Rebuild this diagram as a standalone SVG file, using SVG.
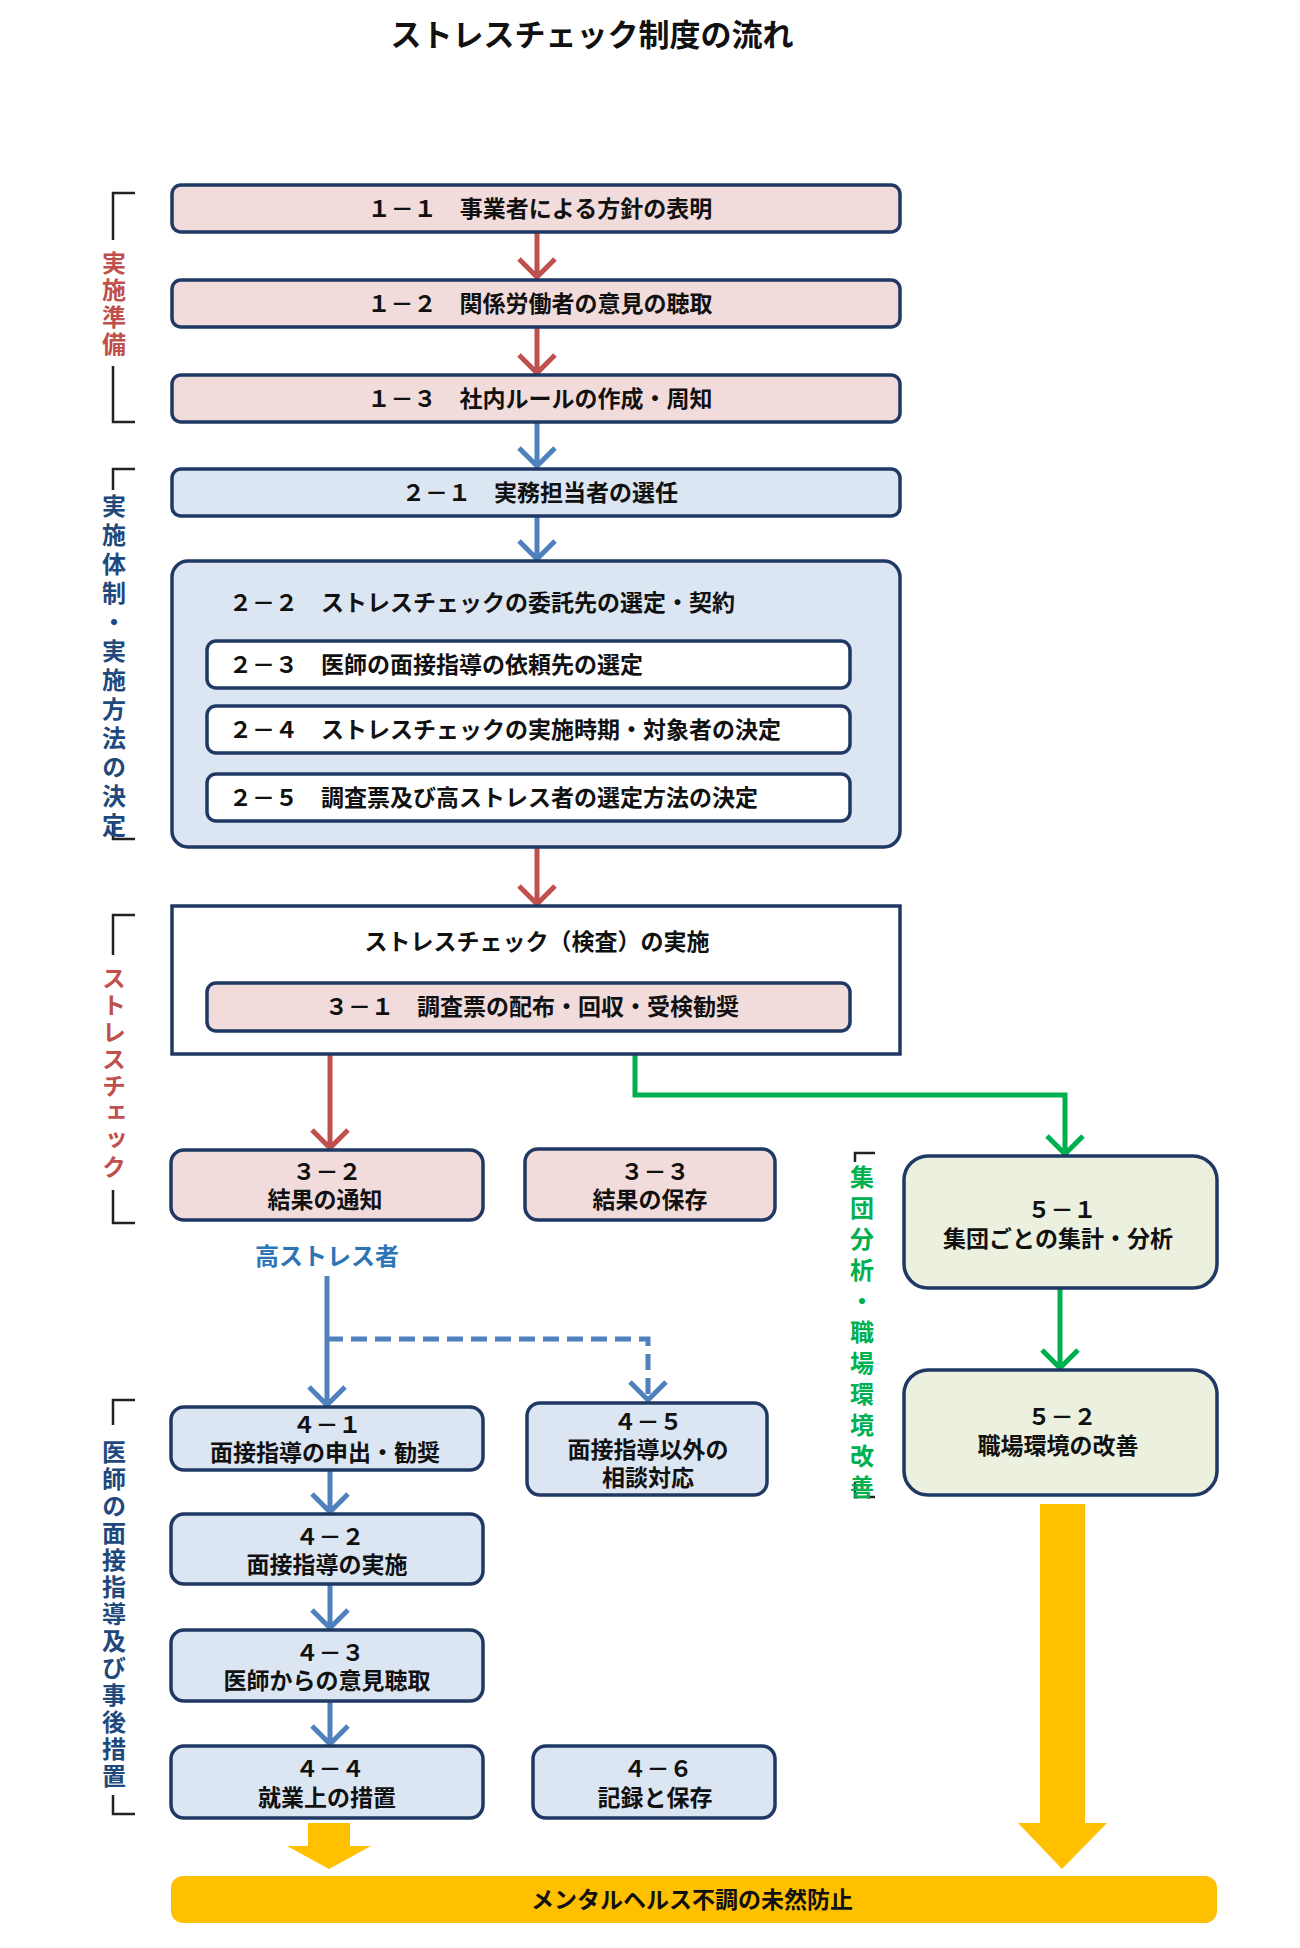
<svg xmlns="http://www.w3.org/2000/svg" width="1300" height="1948" viewBox="0 0 1300 1948">
<style>
text{font-family:"Noto Sans CJK JP","Noto Sans",sans-serif;font-weight:bold;fill:#111;}
.t{font-size:23px;text-anchor:middle;}
.tl{font-size:23px;}
.pk{fill:#f2dcdb;stroke:#1f3864;stroke-width:3.5;}
.bl{fill:#dce6f2;stroke:#1f3864;stroke-width:3.5;}
.wh{fill:#fff;stroke:#1f3864;stroke-width:3.5;}
.gr{fill:#ebf1de;stroke:#1f3864;stroke-width:3.5;}
.ar{fill:none;stroke-width:5;stroke-linejoin:miter;}
.red{stroke:#c0504d;}
.blu{stroke:#4f81bd;}
.grn{stroke:#00b050;}
.br{fill:none;stroke:#222;stroke-width:2.5;}
.lab{font-size:24px;writing-mode:vertical-rl;}
</style>
<text x="592" y="46" style="font-size:31px;text-anchor:middle">ストレスチェック制度の流れ</text>

<g id="brackets">
<path class="br" d="M135 193H113V240M113 366V422H135"/>
<text class="lab" style="fill:#c0504d;letter-spacing:3px" x="114" y="251">実施準備</text>
<path class="br" d="M135 469H113V490M113 822V839H135"/>
<text class="lab" style="fill:#1f497d;letter-spacing:5px" x="114" y="494">実施体制・実施方法の決定</text>
<path class="br" d="M135 915H113V955M113 1190V1223H135"/>
<text class="lab" style="fill:#c0504d;letter-spacing:3px" x="114" y="966">ストレスチェック</text>
<path class="br" d="M135 1400H113V1425M113 1795V1814H135"/>
<text class="lab" style="fill:#1f497d;letter-spacing:3px" x="114" y="1440">医師の面接指導及び事後措置</text>
<path class="br" d="M875 1153H855V1162M855 1482V1497H875"/>
<text class="lab" style="fill:#00b050;letter-spacing:7px" x="862" y="1165">集団分析・職場環境改善</text>
</g>

<g id="connectors">
<path class="ar red" d="M537 232V277M519 259L537 277L555 259"/>
<path class="ar red" d="M537 327V373M519 355L537 373L555 355"/>
<path class="ar blu" d="M537 422V466M519 448L537 466L555 448"/>
<path class="ar blu" d="M537 516V559M519 541L537 559L555 541"/>
<path class="ar red" d="M537 848V904M519 886L537 904L555 886"/>
<path class="ar red" d="M330 1054V1148M312 1130L330 1148L348 1130"/>
<path class="ar grn" d="M635 1054V1095H1065V1154M1047 1136L1065 1154L1083 1136"/>
<path class="ar grn" d="M1060 1288V1368M1042 1350L1060 1368L1078 1350"/>
<path class="ar blu" d="M327 1276V1405M309 1387L327 1405L345 1387"/>
<path class="ar blu" d="M327 1339H648V1400" stroke-dasharray="16 8"/>
<path class="ar blu" d="M630 1382L648 1400L666 1382"/>
<path class="ar blu" d="M330 1470V1512M312 1494L330 1512L348 1494"/>
<path class="ar blu" d="M330 1584V1628M312 1610L330 1628L348 1610"/>
<path class="ar blu" d="M330 1701V1744M312 1726L330 1744L348 1726"/>
<path d="M308 1823H350V1846H371L329 1869L287 1846H308Z" fill="#ffc000"/>
<path d="M1040 1504H1085V1823H1107L1062 1869L1018 1823H1040Z" fill="#ffc000"/>
</g>

<g id="n11"><rect class="pk" x="172" y="185" width="728" height="47" rx="9"/><text class="t" x="540" y="217">１－１　事業者による方針の表明</text></g>
<g id="n12"><rect class="pk" x="172" y="280" width="728" height="47" rx="9"/><text class="t" x="540" y="312">１－２　関係労働者の意見の聴取</text></g>
<g id="n13"><rect class="pk" x="172" y="375" width="728" height="47" rx="9"/><text class="t" x="540" y="407">１－３　社内ルールの作成・周知</text></g>
<g id="n21"><rect class="bl" x="172" y="469" width="728" height="47" rx="9"/><text class="t" x="540" y="501">２－１　実務担当者の選任</text></g>
<g id="n22"><rect class="bl" x="172" y="561" width="728" height="286" rx="16"/><text class="tl" x="229" y="611">２－２　ストレスチェックの委託先の選定・契約</text></g>
<g id="n23"><rect class="wh" x="207" y="641" width="643" height="47" rx="9"/><text class="tl" x="229" y="673">２－３　医師の面接指導の依頼先の選定</text></g>
<g id="n24"><rect class="wh" x="207" y="706" width="643" height="47" rx="9"/><text class="tl" x="229" y="738">２－４　ストレスチェックの実施時期・対象者の決定</text></g>
<g id="n25"><rect class="wh" x="207" y="774" width="643" height="47" rx="9"/><text class="tl" x="229" y="806">２－５　調査票及び高ストレス者の選定方法の決定</text></g>
<g id="n3"><rect class="wh" x="172" y="906" width="728" height="148"/><text class="t" x="537" y="950">ストレスチェック（検査）の実施</text></g>
<g id="n31"><rect class="pk" x="207" y="983" width="643" height="48" rx="9"/><text class="t" x="532" y="1015">３－１　調査票の配布・回収・受検勧奨</text></g>
<g id="n32"><rect class="pk" x="171" y="1150" width="312" height="70" rx="13"/><text class="t" x="327" y="1180">３－２</text><text class="t" x="325" y="1208">結果の通知</text></g>
<g id="n33"><rect class="pk" x="525" y="1149" width="250" height="71" rx="13"/><text class="t" x="655" y="1180">３－３</text><text class="t" x="650" y="1208">結果の保存</text></g>
<g id="hs"><text class="t" x="327" y="1265" style="fill:#2e75b6;font-size:24px">高ストレス者</text></g>
<g id="n51"><rect class="gr" x="904" y="1156" width="313" height="132" rx="24"/><text class="t" x="1062" y="1218">５－１</text><text class="t" x="1058" y="1247">集団ごとの集計・分析</text></g>
<g id="n52"><rect class="gr" x="904" y="1370" width="313" height="125" rx="24"/><text class="t" x="1062" y="1425">５－２</text><text class="t" x="1058" y="1454">職場環境の改善</text></g>
<g id="n41"><rect class="bl" x="171" y="1407" width="312" height="63" rx="13"/><text class="t" x="327" y="1433">４－１</text><text class="t" x="325" y="1461">面接指導の申出・勧奨</text></g>
<g id="n45"><rect class="bl" x="527" y="1403" width="240" height="92" rx="13"/><text class="t" x="648" y="1430">４－５</text><text class="t" x="648" y="1458">面接指導以外の</text><text class="t" x="648" y="1486">相談対応</text></g>
<g id="n42"><rect class="bl" x="171" y="1514" width="312" height="70" rx="13"/><text class="t" x="330" y="1545">４－２</text><text class="t" x="327" y="1573">面接指導の実施</text></g>
<g id="n43"><rect class="bl" x="171" y="1630" width="312" height="71" rx="13"/><text class="t" x="330" y="1661">４－３</text><text class="t" x="327" y="1689">医師からの意見聴取</text></g>
<g id="n44"><rect class="bl" x="171" y="1746" width="312" height="72" rx="13"/><text class="t" x="330" y="1777">４－４</text><text class="t" x="327" y="1806">就業上の措置</text></g>
<g id="n46"><rect class="bl" x="533" y="1746" width="242" height="72" rx="13"/><text class="t" x="658" y="1777">４－６</text><text class="t" x="655" y="1806">記録と保存</text></g>
<g id="goal"><rect x="171" y="1876" width="1046" height="47" rx="12" fill="#ffc000"/><text class="t" x="692" y="1908">メンタルヘルス不調の未然防止</text></g>
</svg>
